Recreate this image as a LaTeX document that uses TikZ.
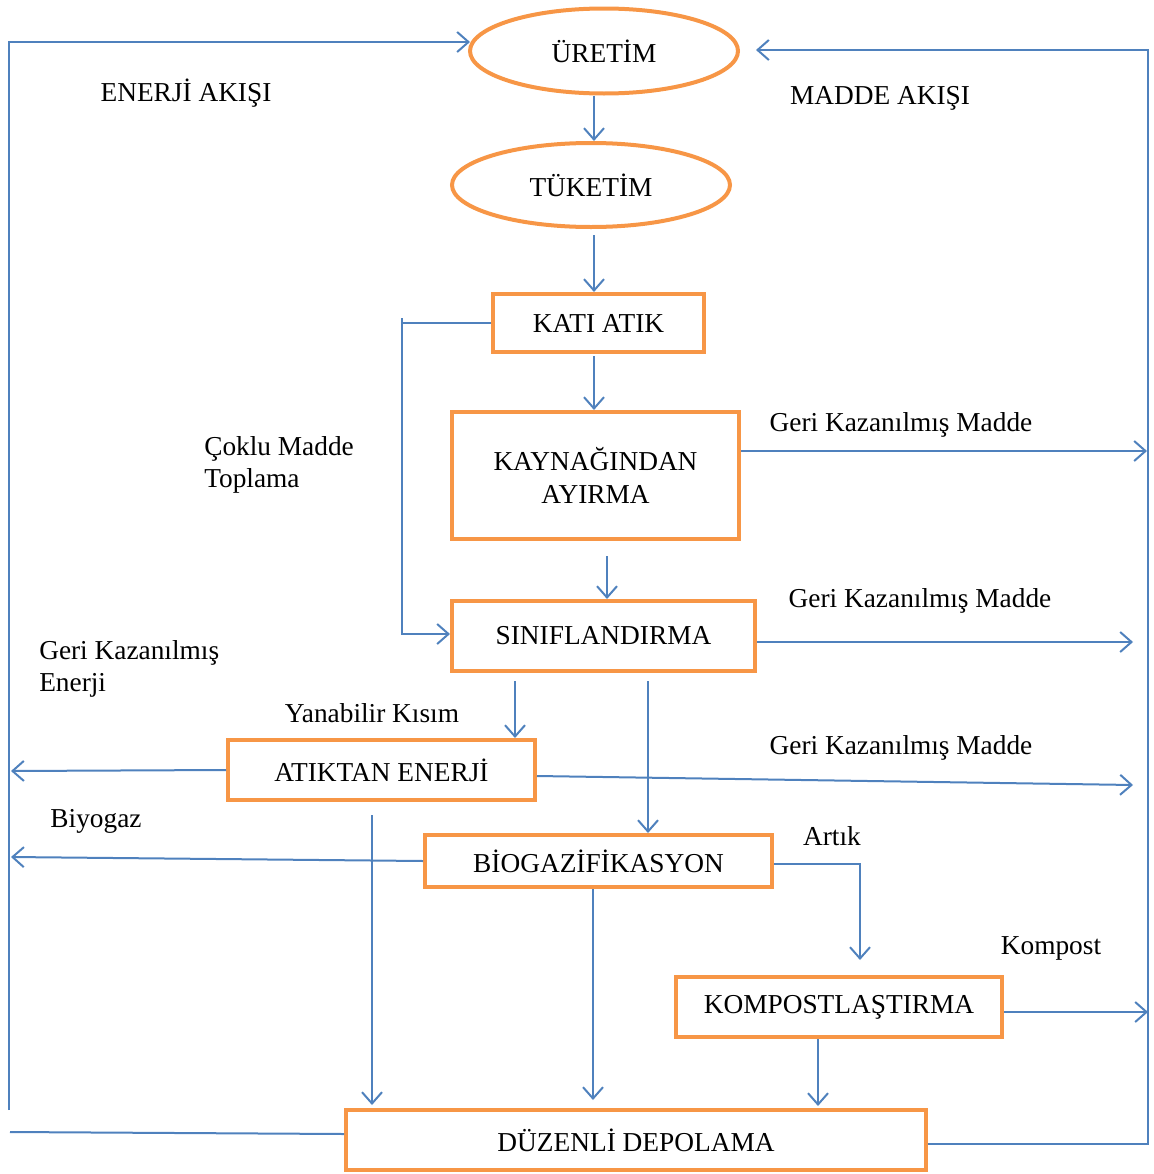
\documentclass[tikz,border=0pt]{standalone}
\usepackage{fontspec}
\setmainfont{Liberation Serif}
\usetikzlibrary{shapes.geometric,arrows.meta,calc}
\definecolor{flowblue}{HTML}{4F81BD}
\definecolor{boxorange}{HTML}{F79646}
\begin{document}
\begin{tikzpicture}[x=0.75pt,y=-0.75pt,
  font=\fontsize{20.5}{24.5}\selectfont,
  oval/.style={ellipse,draw=boxorange,line width=3pt,inner sep=0pt},
  stage/.style={rectangle,draw=boxorange,line width=3pt,inner sep=0pt,align=center},
  flow/.style={draw=flowblue,line width=1.5pt},
  arr/.style={flow,-{Straight Barb[length=8.5pt,width=15pt]}},
  lbl/.style={inner sep=0pt,align=left}]
\useasboundingbox (0,0) rectangle (1153,1174);
% nodes
\node[oval,minimum width=201pt,minimum height=63.75pt] (ure) at (604,51) {ÜRETİM};
\node[oval,minimum width=208.5pt,minimum height=63pt] (tuk) at (591,185) {TÜKETİM};
\node[stage,minimum width=158.25pt,minimum height=43.5pt] (kati) at (598.5,323) {\raisebox{-2pt}{KATI ATIK}};
\node[stage,minimum width=215.25pt,minimum height=95.25pt] (kay) at (595.5,475.5) {KAYNAĞINDAN\\AYIRMA};
\node[stage,minimum width=227.25pt,minimum height=52.5pt] (sin) at (603.5,636) {\raisebox{-1pt}{SINIFLANDIRMA}};
\node[stage,minimum width=230.25pt,minimum height=45pt] (ate) at (381.5,770) {ATIKTAN ENERJİ};
\node[stage,minimum width=260.25pt,minimum height=39pt] (bio) at (598.5,861) {BİOGAZİFİKASYON};
\node[stage,minimum width=244.5pt,minimum height=45pt] (kom) at (839,1007) {KOMPOSTLAŞTIRMA};
\node[stage,minimum width=435pt,minimum height=45pt] (dep) at (636,1140) {DÜZENLİ DEPOLAMA};
% free ends
\coordinate (rm1) at (1147,451);
\coordinate (rm2) at (1133,642);
\coordinate (rm3) at (1133,785);
\coordinate (le1) at (11,771);
\coordinate (le2) at (11,857);
\coordinate (rk) at (1148,1012);
\coordinate (rb) at (1148,1144);
\coordinate (rt) at (1148,50);
\coordinate (lb) at (10,1132);
\coordinate (lvb) at (9,1110);
\coordinate (lvt) at (9,42);
% labels
\node[lbl] (t1) at (186,93) {ENERJİ AKIŞI};
\node[lbl] (t2) at (880,98) {MADDE AKIŞI};
\node[lbl] (t3) at (901,425) {Geri Kazanılmış Madde};
\node[lbl] (t4) at (920,601) {Geri Kazanılmış Madde};
\node[lbl] (t5) at (901,748) {Geri Kazanılmış Madde};
\node[lbl,anchor=west] (t6) at (204,465) {Çoklu Madde\\Toplama};
\node[lbl,anchor=west] (t7) at (39,669) {Geri Kazanılmış\\Enerji};
\node[lbl] (t8) at (372,713) {Yanabilir Kısım};
\node[lbl] (t9) at (96,821) {Biyogaz};
\node[lbl] (t10) at (832,836) {Artık};
\node[lbl] (t11) at (1051,948) {Kompost};
% connectors
\draw[arr] ($(ure.south)+(-10,0)$) -- ($(tuk.north)+(3,0)$);
\draw[arr] ($(tuk.south)+(3,6)$) -- ($(kati.north)+(-4.5,0)$);
\draw[flow] (kati.west) -- ($(kati.west)+(-89,0)$);
\draw[arr] ($(kati.west)+(-89,-5)$) |- ($(sin.west)+(0,-2)$);
\draw[arr] ($(kati.south)+(-4.5,2)$) -- ($(kay.north)+(-1.5,0)$);
\draw[arr] ($(kay.east)+(0,-24.5)$) -- (rm1);
\draw[arr] ($(kay.south)+(11.5,15)$) -- ($(sin.north)+(3.5,0)$);
\draw[arr] ($(sin.east)+(0,6)$) -- (rm2);
\draw[arr] ($(sin.south)+(-88.5,8)$) -- ($(ate.north)+(133.5,0)$);
\draw[arr] ($(sin.south)+(44.5,8)$) -- ($(bio.north)+(49.5,0)$);
\draw[arr] (ate.west) -- (le1);
\draw[arr] ($(ate.east)+(0,6)$) -- (rm3);
\draw[arr] ($(ate.south)+(-9.5,13)$) -- ($(dep.north)+(-264,-3)$);
\draw[arr] (bio.west) -- (le2);
\draw[arr] ($(bio.east)+(0,3)$) -| ($(kom.north)+(21,-15)$);
\draw[arr] ($(bio.south)+(-5.5,0)$) -- ($(dep.north)+(-43,-8)$);
\draw[arr] ($(kom.east)+(0,5)$) -- (rk);
\draw[arr] ($(kom.south)+(-21,0)$) -- ($(dep.north)+(182,-2)$);
\draw[arr] ($(dep.east)+(0,4)$) -- (rb) -- (rt) -- ($(ure.east)+(16,-1)$);
\draw[flow] ($(dep.west)+(0,-6)$) -- (lb);
\draw[arr] (lvb) -- (lvt) -- ($(ure.west)+(2,-9)$);
\end{tikzpicture}
\end{document}
